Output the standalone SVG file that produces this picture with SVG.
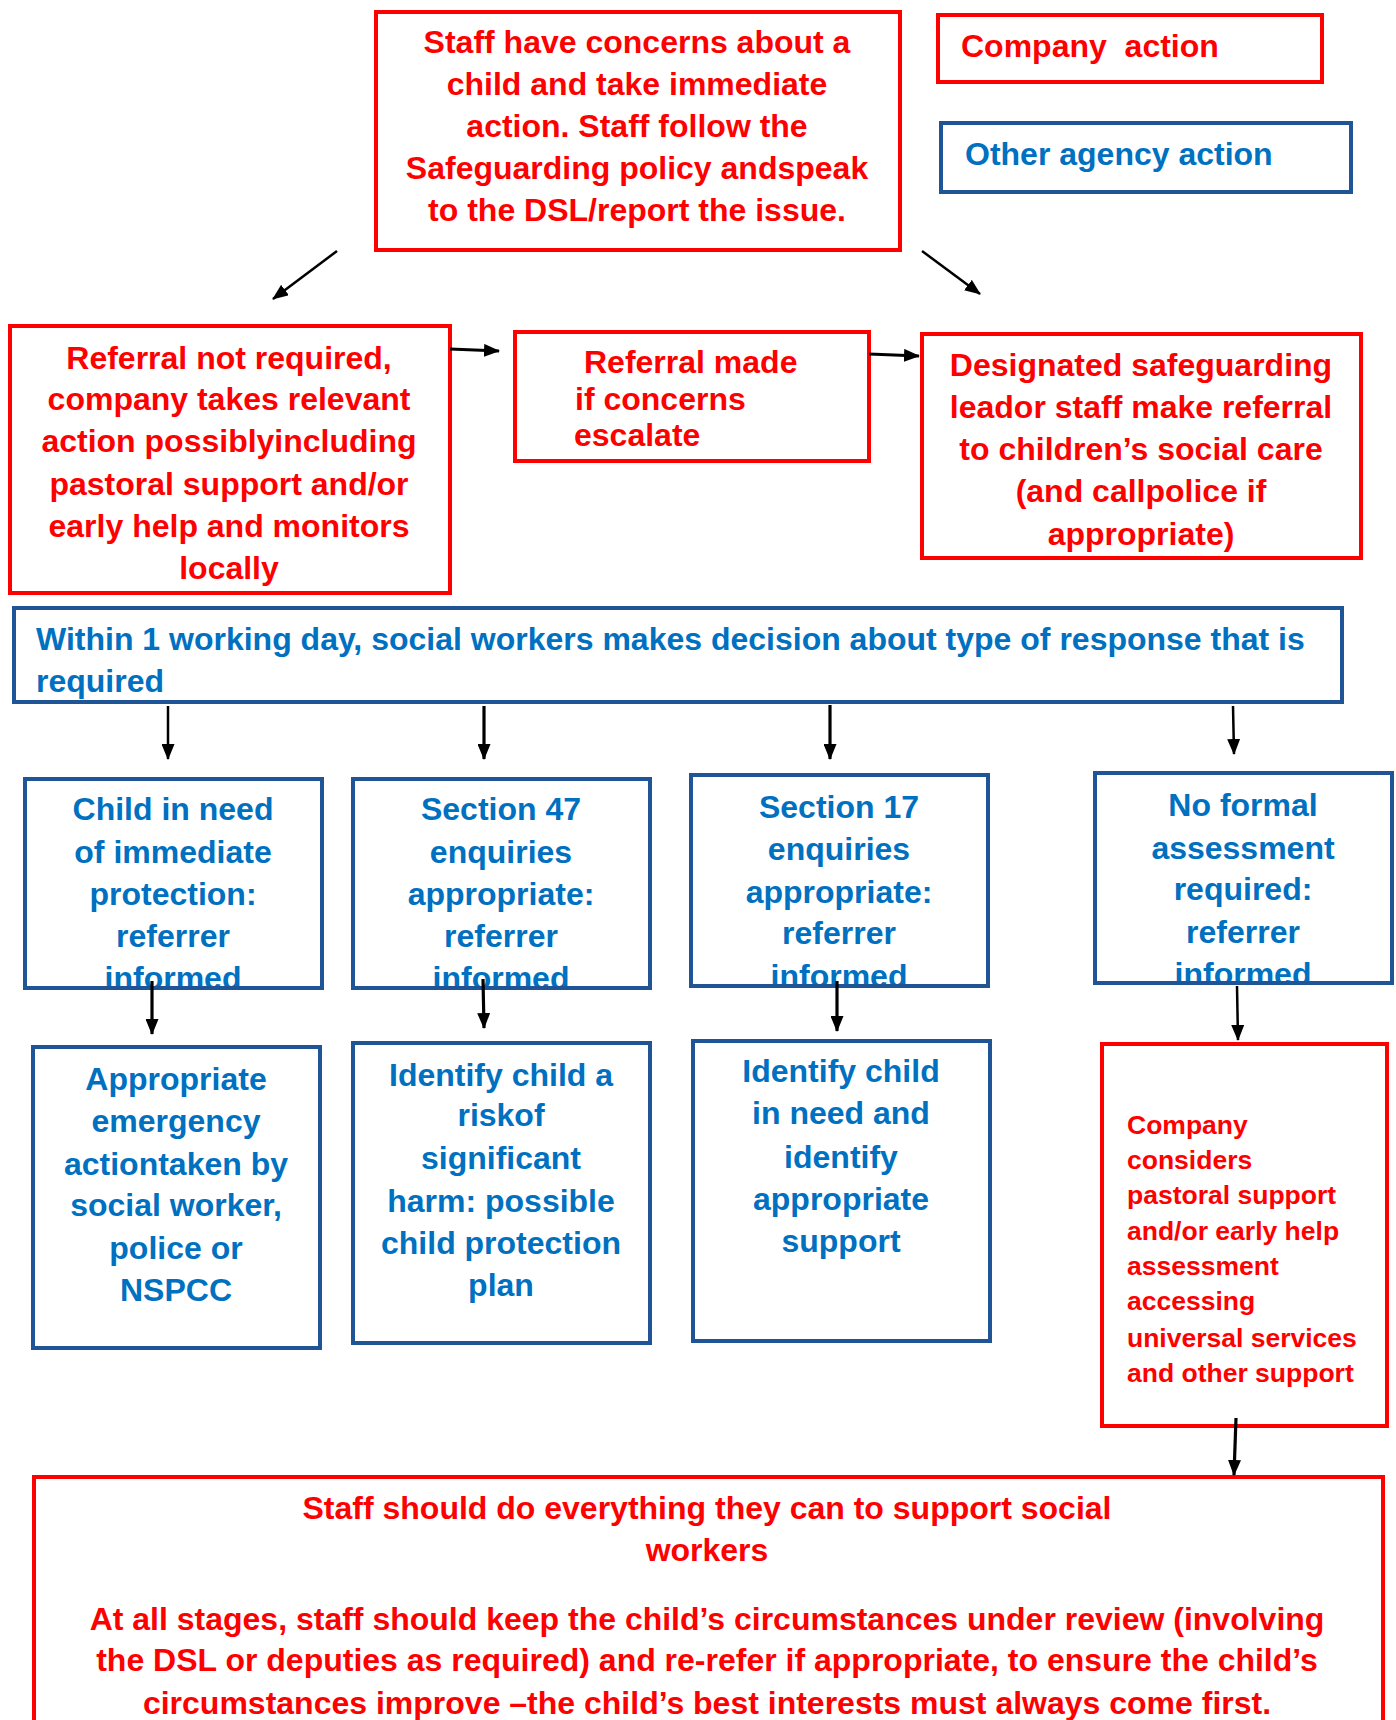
<svg xmlns="http://www.w3.org/2000/svg" width="1396" height="1720" viewBox="0 0 1396 1720">
<defs>
<style>
.red{fill:#fff;stroke:#FF0000;stroke-width:4}
.blue{fill:#fff;stroke:#1F5596;stroke-width:4}
text{font-family:"Liberation Sans",Arial,sans-serif;font-weight:bold}
.rt{fill:#FF0000;font-size:32px}
.bt{fill:#0070C0;font-size:32px}
.rs{fill:#FF0000;font-size:26.5px}
.c{text-anchor:middle}
.conn line{stroke:#000;stroke-width:2.5;marker-end:url(#ah)}
.conn line.thick{stroke-width:3.2}
</style>
<marker id="ah" viewBox="0 0 16 13" refX="15" refY="6.5" markerWidth="16" markerHeight="13" markerUnits="userSpaceOnUse" orient="auto">
<path d="M0,0 L16,6.5 L0,13 z" fill="#000"/>
</marker>
<clipPath id="cA"><rect x="25" y="779" width="297" height="209"/></clipPath>
<clipPath id="cB"><rect x="353" y="779" width="297" height="209"/></clipPath>
<clipPath id="cC"><rect x="691" y="775" width="297" height="211"/></clipPath>
<clipPath id="cD"><rect x="1095" y="773" width="297" height="210"/></clipPath>
</defs>
<rect width="1396" height="1720" fill="#fff"/>

<g id="start">
<rect class="red" x="376" y="12" width="524" height="238"/>
<text class="rt c"><tspan x="637" y="53">Staff have concerns about a</tspan><tspan x="637" y="95">child and take immediate</tspan><tspan x="637" y="137">action. Staff follow the</tspan><tspan x="637" y="179">Safeguarding policy andspeak</tspan><tspan x="637" y="221">to the DSL/report the issue.</tspan></text>
</g>

<g id="legend-company">
<rect class="red" x="938" y="15" width="384" height="67"/>
<text class="rt" x="961" y="57" xml:space="preserve">Company  action</text>
</g>

<g id="legend-agency">
<rect class="blue" x="941" y="123" width="410" height="69"/>
<text class="bt" x="965" y="165">Other agency action</text>
</g>

<g id="not-required">
<rect class="red" x="10" y="326" width="440" height="267"/>
<text class="rt c"><tspan x="229" y="369">Referral not required,</tspan><tspan x="229" y="410">company takes relevant</tspan><tspan x="229" y="452">action possiblyincluding</tspan><tspan x="229" y="495">pastoral support and/or</tspan><tspan x="229" y="537">early help and monitors</tspan><tspan x="229" y="579">locally</tspan></text>
</g>

<g id="referral-made">
<rect class="red" x="515" y="332" width="354" height="129"/>
<text class="rt"><tspan x="584" y="373">Referral made</tspan><tspan x="575" y="410">if concerns</tspan><tspan x="574" y="446">escalate</tspan></text>
</g>

<g id="dsl-referral">
<rect class="red" x="922" y="334" width="439" height="224"/>
<text class="rt c"><tspan x="1141" y="376">Designated safeguarding</tspan><tspan x="1141" y="418">leador staff make referral</tspan><tspan x="1141" y="460">to children’s social care</tspan><tspan x="1141" y="502">(and callpolice if</tspan><tspan x="1141" y="545">appropriate)</tspan></text>
</g>

<g id="decision">
<rect class="blue" x="14" y="608" width="1328" height="94"/>
<text class="bt"><tspan x="36" y="650">Within 1 working day, social workers makes decision about type of response that is</tspan><tspan x="36" y="692">required</tspan></text>
</g>

<g id="immediate-protection">
<rect class="blue" x="25" y="779" width="297" height="209"/>
<text class="bt c" clip-path="url(#cA)"><tspan x="173" y="820">Child in need</tspan><tspan x="173" y="863">of immediate</tspan><tspan x="173" y="905">protection:</tspan><tspan x="173" y="947">referrer</tspan><tspan x="173" y="989">informed</tspan></text>
<rect x="25" y="779" width="297" height="209" fill="none" stroke="#1F5596" stroke-width="4"/>
</g>

<g id="section47">
<rect class="blue" x="353" y="779" width="297" height="209"/>
<text class="bt c" clip-path="url(#cB)"><tspan x="501" y="820">Section 47</tspan><tspan x="501" y="863">enquiries</tspan><tspan x="501" y="905">appropriate:</tspan><tspan x="501" y="947">referrer</tspan><tspan x="501" y="989">informed</tspan></text>
<rect x="353" y="779" width="297" height="209" fill="none" stroke="#1F5596" stroke-width="4"/>
</g>

<g id="section17">
<rect class="blue" x="691" y="775" width="297" height="211"/>
<text class="bt c" clip-path="url(#cC)"><tspan x="839" y="818">Section 17</tspan><tspan x="839" y="860">enquiries</tspan><tspan x="839" y="903">appropriate:</tspan><tspan x="839" y="944">referrer</tspan><tspan x="839" y="987">informed</tspan></text>
<rect x="691" y="775" width="297" height="211" fill="none" stroke="#1F5596" stroke-width="4"/>
</g>

<g id="no-formal">
<rect class="blue" x="1095" y="773" width="297" height="210"/>
<text class="bt c" clip-path="url(#cD)"><tspan x="1243" y="816">No formal</tspan><tspan x="1243" y="859">assessment</tspan><tspan x="1243" y="900">required:</tspan><tspan x="1243" y="943">referrer</tspan><tspan x="1243" y="985">informed</tspan></text>
<rect x="1095" y="773" width="297" height="210" fill="none" stroke="#1F5596" stroke-width="4"/>
</g>

<g id="emergency-action">
<rect class="blue" x="33" y="1047" width="287" height="301"/>
<text class="bt c"><tspan x="176" y="1090">Appropriate</tspan><tspan x="176" y="1132">emergency</tspan><tspan x="176" y="1175">actiontaken by</tspan><tspan x="176" y="1216">social worker,</tspan><tspan x="176" y="1259">police or</tspan><tspan x="176" y="1301">NSPCC</tspan></text>
</g>

<g id="significant-harm">
<rect class="blue" x="353" y="1043" width="297" height="300"/>
<text class="bt c"><tspan x="501" y="1086">Identify child a</tspan><tspan x="501" y="1126">riskof</tspan><tspan x="501" y="1169">significant</tspan><tspan x="501" y="1212">harm: possible</tspan><tspan x="501" y="1254">child protection</tspan><tspan x="501" y="1296">plan</tspan></text>
</g>

<g id="child-in-need">
<rect class="blue" x="693" y="1041" width="297" height="300"/>
<text class="bt c"><tspan x="841" y="1082">Identify child</tspan><tspan x="841" y="1124">in need and</tspan><tspan x="841" y="1168">identify</tspan><tspan x="841" y="1210">appropriate</tspan><tspan x="841" y="1252">support</tspan></text>
</g>

<g id="company-considers">
<rect class="red" x="1102" y="1044" width="285" height="382"/>
<text class="rs"><tspan x="1127" y="1134">Company</tspan><tspan x="1127" y="1169">considers</tspan><tspan x="1127" y="1204">pastoral support</tspan><tspan x="1127" y="1240">and/or early help</tspan><tspan x="1127" y="1275">assessment</tspan><tspan x="1127" y="1310">accessing</tspan><tspan x="1127" y="1347">universal services</tspan><tspan x="1127" y="1382">and other support</tspan></text>
</g>

<g id="support-social-workers">
<rect class="red" x="34" y="1477" width="1349" height="260"/>
<text class="rt c"><tspan x="707" y="1519">Staff should do everything they can to support social</tspan><tspan x="707" y="1561">workers</tspan><tspan x="707" y="1630">At all stages, staff should keep the child’s circumstances under review (involving</tspan><tspan x="707" y="1671">the DSL or deputies as required) and re-refer if appropriate, to ensure the child’s</tspan><tspan x="707" y="1714">circumstances improve –the child’s best interests must always come first.</tspan></text>
</g>

<g class="conn" id="connectors">
<line x1="337" y1="251" x2="273" y2="299"/>
<line x1="922" y1="251" x2="980" y2="294"/>
<line class="thick" x1="450" y1="349" x2="499" y2="351"/>
<line class="thick" x1="869" y1="354" x2="919" y2="356"/>
<line x1="168" y1="706" x2="168" y2="759"/>
<line class="thick" x1="484" y1="706" x2="484" y2="759"/>
<line class="thick" x1="830" y1="705" x2="830" y2="759"/>
<line x1="1233" y1="706" x2="1234" y2="754"/>
<line class="thick" x1="152" y1="981" x2="152" y2="1034"/>
<line class="thick" x1="483" y1="979" x2="484" y2="1028"/>
<line class="thick" x1="837" y1="981" x2="837" y2="1031"/>
<line x1="1237" y1="986" x2="1238" y2="1040"/>
<line class="thick" x1="1236" y1="1418" x2="1234" y2="1475"/>
</g>
</svg>
